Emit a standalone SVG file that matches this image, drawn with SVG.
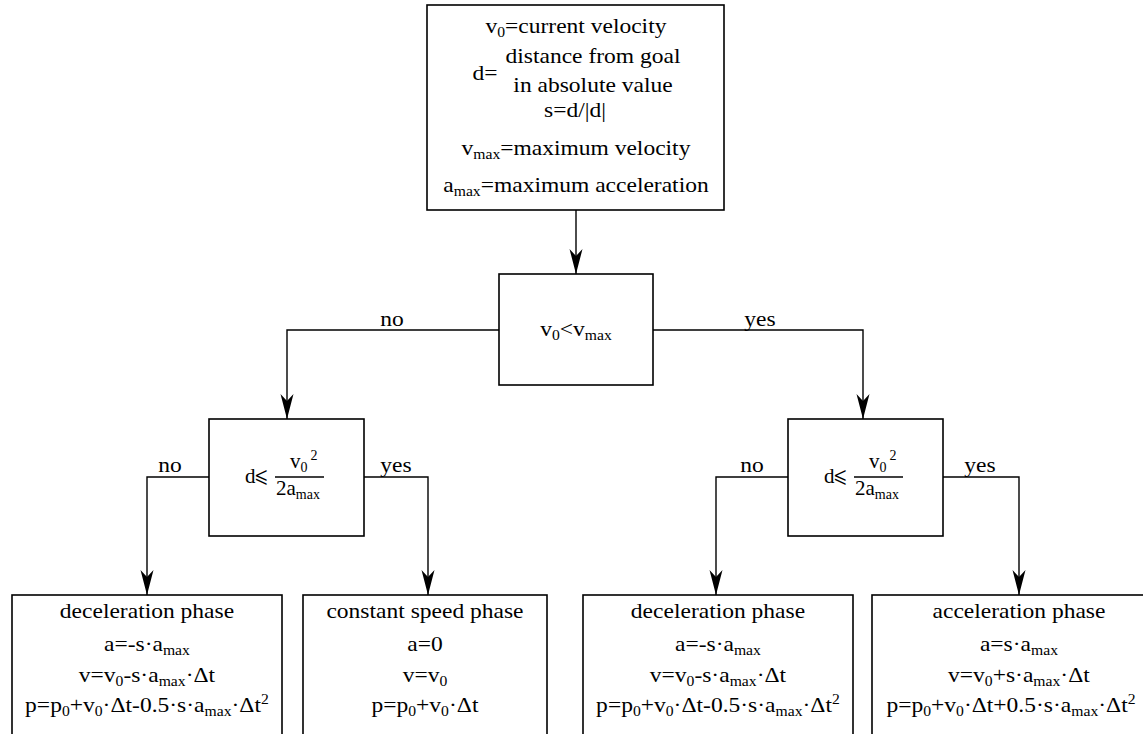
<svg xmlns="http://www.w3.org/2000/svg" width="1143" height="734" viewBox="0 0 1143 734">
  <style>
    .box { fill: #fff; stroke: #000; stroke-width: 1.6; }
    .t { font-family: 'Liberation Serif', 'DejaVu Serif', 'Noto Serif', 'FreeSerif', Tinos, 'Times New Roman', Times, serif; font-size: 21px; fill: #000; text-anchor: middle;
         transform-box: fill-box; transform-origin: center; transform: scaleX(1.12); }
    .m { font-family: 'Liberation Serif', 'DejaVu Serif', 'Noto Serif', 'FreeSerif', Tinos, 'Times New Roman', Times, serif; font-size: 21px; fill: #000; }
    .s { font-size: 14px; }
    .conn { fill: none; stroke: #000; stroke-width: 1.4; marker-end: url(#ah); }
    .bar { stroke: #000; stroke-width: 1.3; }
  </style>
  <defs>
    <marker id="ah" markerUnits="userSpaceOnUse" markerWidth="30" markerHeight="18" viewBox="-26 -9 28 18" refX="0" refY="0" orient="auto">
      <path d="M0,0 L-25,-6.5 L-18,0 L-25,6.5 Z" fill="#000"/>
    </marker>
  </defs>

  <!-- connectors -->
  <g id="connectors">
    <path class="conn" d="M576,210 V274"/>
    <path class="conn" d="M499,330 H287 V419"/>
    <path class="conn" d="M653,330 H863 V419"/>
    <path class="conn" d="M209,477 H147 V595"/>
    <path class="conn" d="M364,477 H428 V595"/>
    <path class="conn" d="M788,477 H716 V595"/>
    <path class="conn" d="M943,477 H1019 V595"/>
    <text class="t" x="392" y="326">no</text>
    <text class="t" x="760" y="326">yes</text>
    <text class="t" x="170" y="472">no</text>
    <text class="t" x="396" y="472">yes</text>
    <text class="t" x="752" y="472">no</text>
    <text class="t" x="980" y="472">yes</text>
  </g>

  <!-- definitions box -->
  <g id="definitions">
    <rect class="box" x="427" y="5" width="297" height="205"/>
    <text class="t" x="576" y="33">v<tspan class="s" dy="4">0</tspan><tspan dy="-4">=current velocity</tspan></text>
    <text class="t" x="485" y="80">d=</text>
    <text class="t" x="593" y="63">distance from goal</text>
    <text class="t" x="593" y="92">in absolute value</text>
    <text class="t" x="575" y="117">s=d/|d|</text>
    <text class="t" x="576" y="155">v<tspan class="s" dy="4">max</tspan><tspan dy="-4">=maximum velocity</tspan></text>
    <text class="t" x="576" y="192">a<tspan class="s" dy="4">max</tspan><tspan dy="-4">=maximum acceleration</tspan></text>
  </g>

  <!-- speed test -->
  <g id="speed-check">
    <rect class="box" x="499" y="274" width="154" height="111"/>
    <text class="t" x="576" y="336">v<tspan class="s" dy="4">0</tspan><tspan dy="-4">&lt;v</tspan><tspan class="s" dy="4">max</tspan></text>
  </g>

  <!-- braking distance test, left -->
  <g id="distance-check-left">
    <rect class="box" x="209" y="419" width="155" height="117"/>
    <text class="m" x="245" y="483">d⩽</text>
    <line class="bar" x1="275" y1="477" x2="324" y2="477"/>
    <text class="m" x="290" y="468">v<tspan class="s" dy="4">0</tspan><tspan class="s" dx="3" dy="-12">2</tspan></text>
    <text class="m" x="276" y="495">2a<tspan class="s" dy="4">max</tspan></text>
  </g>

  <!-- braking distance test, right -->
  <g id="distance-check-right">
    <rect class="box" x="788" y="419" width="155" height="117"/>
    <text class="m" x="824" y="483">d⩽</text>
    <line class="bar" x1="854" y1="477" x2="903" y2="477"/>
    <text class="m" x="869" y="468">v<tspan class="s" dy="4">0</tspan><tspan class="s" dx="3" dy="-12">2</tspan></text>
    <text class="m" x="855" y="495">2a<tspan class="s" dy="4">max</tspan></text>
  </g>

  <!-- phase boxes -->
  <g id="deceleration-left">
    <rect class="box" x="12" y="595" width="270" height="150"/>
    <text class="t" x="147" y="618">deceleration phase</text>
    <text class="t" x="147" y="651">a=-s·a<tspan class="s" dy="4">max</tspan></text>
    <text class="t" x="147" y="682">v=v<tspan class="s" dy="4">0</tspan><tspan dy="-4">-s·a</tspan><tspan class="s" dy="4">max</tspan><tspan dy="-4">·Δt</tspan></text>
    <text class="t" x="147" y="712">p=p<tspan class="s" dy="4">0</tspan><tspan dy="-4">+v</tspan><tspan class="s" dy="4">0</tspan><tspan dy="-4">·Δt-0.5·s·a</tspan><tspan class="s" dy="4">max</tspan><tspan dy="-4">·Δt</tspan><tspan class="s" dy="-8">2</tspan></text>
  </g>

  <g id="constant-speed">
    <rect class="box" x="303" y="595" width="244" height="150"/>
    <text class="t" x="425" y="618">constant speed phase</text>
    <text class="t" x="425" y="651">a=0</text>
    <text class="t" x="425" y="682">v=v<tspan class="s" dy="4">0</tspan></text>
    <text class="t" x="425" y="712">p=p<tspan class="s" dy="4">0</tspan><tspan dy="-4">+v</tspan><tspan class="s" dy="4">0</tspan><tspan dy="-4">·Δt</tspan></text>
  </g>

  <g id="deceleration-right">
    <rect class="box" x="583" y="595" width="270" height="150"/>
    <text class="t" x="718" y="618">deceleration phase</text>
    <text class="t" x="718" y="651">a=-s·a<tspan class="s" dy="4">max</tspan></text>
    <text class="t" x="718" y="682">v=v<tspan class="s" dy="4">0</tspan><tspan dy="-4">-s·a</tspan><tspan class="s" dy="4">max</tspan><tspan dy="-4">·Δt</tspan></text>
    <text class="t" x="718" y="712">p=p<tspan class="s" dy="4">0</tspan><tspan dy="-4">+v</tspan><tspan class="s" dy="4">0</tspan><tspan dy="-4">·Δt-0.5·s·a</tspan><tspan class="s" dy="4">max</tspan><tspan dy="-4">·Δt</tspan><tspan class="s" dy="-8">2</tspan></text>
  </g>

  <g id="acceleration">
    <rect class="box" x="872" y="595" width="300" height="150"/>
    <text class="t" x="1019" y="618">acceleration phase</text>
    <text class="t" x="1019" y="651">a=s·a<tspan class="s" dy="4">max</tspan></text>
    <text class="t" x="1019" y="682">v=v<tspan class="s" dy="4">0</tspan><tspan dy="-4">+s·a</tspan><tspan class="s" dy="4">max</tspan><tspan dy="-4">·Δt</tspan></text>
    <text class="t" x="1011" y="712">p=p<tspan class="s" dy="4">0</tspan><tspan dy="-4">+v</tspan><tspan class="s" dy="4">0</tspan><tspan dy="-4">·Δt+0.5·s·a</tspan><tspan class="s" dy="4">max</tspan><tspan dy="-4">·Δt</tspan><tspan class="s" dy="-8">2</tspan></text>
  </g>
</svg>
